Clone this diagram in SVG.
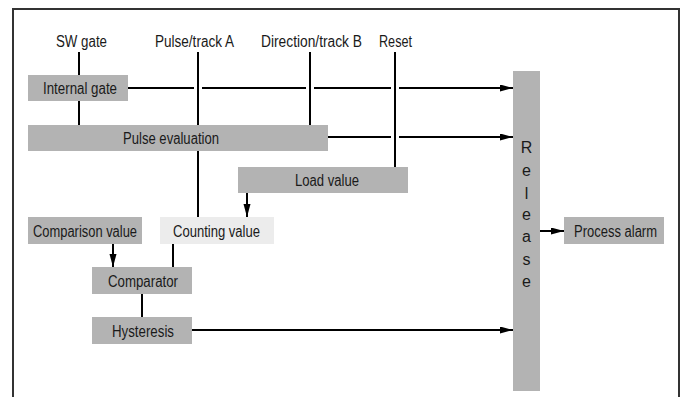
<svg xmlns="http://www.w3.org/2000/svg" width="683" height="397" viewBox="0 0 683 397">
<defs>
<marker id="ah" markerUnits="userSpaceOnUse" markerWidth="14" markerHeight="8" refX="13" refY="3.5" orient="auto">
<path d="M0,0 L13,3.5 L0,7 z" fill="#000"/>
</marker>
<style>
.box{fill:#b3b3b3}
.light{fill:#ececec}
text{font-family:"Liberation Sans Narrow","Liberation Sans",Arial,sans-serif;font-size:16px;fill:#1a1a1a}
.c{text-anchor:middle}
.ln{stroke:#000;stroke-width:2;fill:none}
.ar{stroke:#000;stroke-width:2;fill:none;marker-end:url(#ah)}
</style>
</defs>
<rect width="683" height="397" fill="#fff"/>
<path d="M13,397 V9 H679 V397" fill="none" stroke="#333" stroke-width="2"/>

<g id="labels">
<text x="56" y="47" textLength="51" lengthAdjust="spacingAndGlyphs">SW gate</text>
<text x="155" y="47" textLength="79" lengthAdjust="spacingAndGlyphs">Pulse/track A</text>
<text x="261" y="47" textLength="101" lengthAdjust="spacingAndGlyphs">Direction/track B</text>
<text x="379" y="47" textLength="33" lengthAdjust="spacingAndGlyphs">Reset</text>
</g>

<g id="connectors">
<line class="ln" x1="79" y1="52" x2="79" y2="75"/>
<line class="ln" x1="79" y1="101" x2="79" y2="125"/>
<line class="ln" x1="198" y1="52" x2="198" y2="125"/>
<line class="ln" x1="198" y1="151" x2="198" y2="217"/>
<line class="ln" x1="310" y1="52" x2="310" y2="125"/>
<line class="ln" x1="395" y1="52" x2="395" y2="167"/>
<line class="ln" x1="128" y1="88" x2="194" y2="88"/>
<line class="ln" x1="202" y1="88" x2="306" y2="88"/>
<line class="ln" x1="314" y1="88" x2="391" y2="88"/>
<line class="ar" x1="399" y1="88" x2="513" y2="88"/>
<line class="ln" x1="328" y1="137" x2="391" y2="137"/>
<line class="ar" x1="399" y1="137" x2="513" y2="137"/>
<line class="ar" x1="247" y1="193" x2="247" y2="217"/>
<line class="ar" x1="113" y1="244" x2="113" y2="267"/>
<line class="ln" x1="173" y1="244" x2="173" y2="267"/>
<line class="ln" x1="142" y1="294" x2="142" y2="317"/>
<line class="ar" x1="192" y1="330" x2="513" y2="330"/>
<line class="ar" x1="540" y1="231" x2="564" y2="231"/>
</g>

<g id="internal-gate"><rect class="box" x="28" y="75" width="100" height="26"/><text x="43" y="94" textLength="74" lengthAdjust="spacingAndGlyphs">Internal gate</text></g>
<g id="pulse-evaluation"><rect class="box" x="28" y="125" width="300" height="26"/><text x="123" y="144" textLength="96" lengthAdjust="spacingAndGlyphs">Pulse evaluation</text></g>
<g id="load-value"><rect class="box" x="238" y="167" width="170" height="26"/><text x="295" y="186" textLength="64" lengthAdjust="spacingAndGlyphs">Load value</text></g>
<g id="comparison-value"><rect class="box" x="28" y="217" width="114" height="27"/><text x="33" y="236.5" textLength="104" lengthAdjust="spacingAndGlyphs">Comparison value</text></g>
<g id="counting-value"><rect class="light" x="160" y="217" width="114" height="27"/><text x="173" y="236.5" textLength="87" lengthAdjust="spacingAndGlyphs">Counting value</text></g>
<g id="comparator"><rect class="box" x="92" y="267" width="100" height="27"/><text x="108" y="286.5" textLength="70" lengthAdjust="spacingAndGlyphs">Comparator</text></g>
<g id="hysteresis"><rect class="box" x="92" y="317" width="100" height="27"/><text x="112" y="336.5" textLength="62" lengthAdjust="spacingAndGlyphs">Hysteresis</text></g>
<g id="process-alarm"><rect class="box" x="564" y="217" width="100" height="27"/><text x="574" y="236.5" textLength="83" lengthAdjust="spacingAndGlyphs">Process alarm</text></g>
<g id="release"><rect class="box" x="513" y="71" width="27" height="320"/>
<text class="c" x="526.5" y="153">R</text>
<text class="c" x="526.5" y="176">e</text>
<text class="c" x="526.5" y="199">l</text>
<text class="c" x="526.5" y="220">e</text>
<text class="c" x="526.5" y="242">a</text>
<text class="c" x="526.5" y="265">s</text>
<text class="c" x="526.5" y="287">e</text>
</g>
</svg>
